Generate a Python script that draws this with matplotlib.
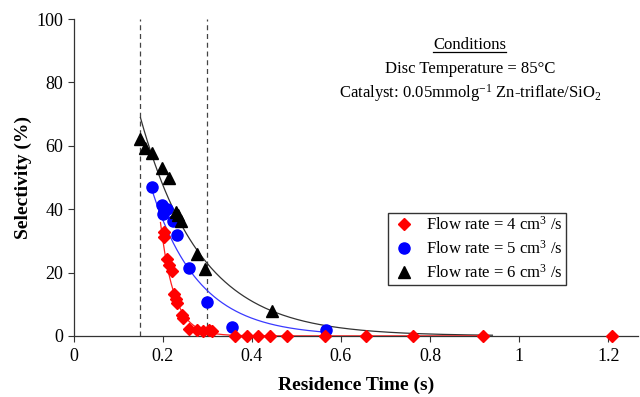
import numpy as np
import matplotlib
matplotlib.use('Agg')
import matplotlib.pyplot as plt

plt.rcParams['font.family'] = ['Liberation Serif', 'DejaVu Serif']
plt.rcParams['mathtext.fontset'] = 'custom'
plt.rcParams['mathtext.rm'] = 'Liberation Serif'
plt.rcParams['mathtext.it'] = 'Liberation Serif:italic'
plt.rcParams['mathtext.bf'] = 'Liberation Serif:bold'

# 4 cm3/s (red diamonds)
red_x = [0.202, 0.204, 0.210, 0.215, 0.220, 0.226, 0.229, 0.232, 0.243, 0.246,
         0.260, 0.276, 0.290, 0.303, 0.310, 0.362, 0.389, 0.413, 0.441, 0.478,
         0.564, 0.656, 0.762, 0.919, 1.208]
red_y = [32.9, 31.3, 24.2, 22.4, 20.6, 13.2, 11.7, 10.5, 6.6, 5.6,
         2.1, 1.7, 1.6, 1.7, 1.4, 0, 0, 0, 0, 0,
         0, 0, 0, 0, 0]
# 5 cm3/s (blue circles)
blue_x = [0.177, 0.198, 0.200, 0.203, 0.209, 0.224, 0.233, 0.260, 0.299, 0.355, 0.567]
blue_y = [47.1, 41.3, 38.5, 39.5, 40.0, 36.4, 31.9, 21.4, 10.8, 2.9, 1.9]
# 6 cm3/s (black triangles)
black_x = [0.149, 0.161, 0.175, 0.198, 0.214, 0.230, 0.235, 0.241, 0.278, 0.295, 0.445]
black_y = [62.1, 59.2, 57.8, 53.1, 49.9, 39.2, 38.2, 36.3, 25.8, 21.1, 7.9]

# x-range over which each exponential trendline is drawn
red_span = (0.195, 0.92)
blue_span = (0.177, 0.567)
black_span = (0.15, 0.94)

dash_x = [0.15, 0.3]
labels = ['Flow rate = 4 cm$^{3}$ /s', 'Flow rate = 5 cm$^{3}$ /s', 'Flow rate = 6 cm$^{3}$ /s']


def exp_trend(x, y, span):
    x = np.array(x)
    y = np.array(y)
    keep = y > 1
    b, a = np.polyfit(x[keep], np.log(y[keep]), 1)
    xs = np.linspace(span[0], span[1], 300)
    return xs, np.exp(a + b * xs)


fig = plt.figure(figsize=(6.4, 3.97), dpi=100)
ax = fig.add_axes([0.115, 0.154, 0.882, 0.798])

for xv in dash_x:
    ax.axvline(xv, color='#444444', lw=0.9, ls=(0, (4, 3)), zorder=1)

xs, ys = exp_trend(black_x, black_y, black_span)
ax.plot(xs, ys, color='#333333', lw=0.9, zorder=2)
xs, ys = exp_trend(blue_x, blue_y, blue_span)
ax.plot(xs, ys, color='#3a3aff', lw=0.9, zorder=2)
xs, ys = exp_trend(red_x, red_y, red_span)
ax.plot(xs, ys, color='#ff2020', lw=0.9, zorder=2)

ax.plot(red_x, red_y, 'D', color='red', ms=5.8, mec='red', ls='none', label=labels[0], zorder=4, clip_on=False)
ax.plot(blue_x, blue_y, 'o', color='blue', ms=8, mec='blue', ls='none', label=labels[1], zorder=3, clip_on=False)
ax.plot(black_x, black_y, '^', color='black', ms=8, ls='none', label=labels[2], zorder=3, clip_on=False)

ax.set_xlim(0, 1.267)
ax.set_ylim(0, 100)
ax.set_xticks([0, 0.2, 0.4, 0.6, 0.8, 1.0, 1.2])
ax.set_xticklabels(['0', '0.2', '0.4', '0.6', '0.8', '1', '1.2'])
ax.set_yticks([0, 20, 40, 60, 80, 100])
ax.tick_params(labelsize=13, length=4, width=0.8, color='#333333')
ax.tick_params(axis='x', pad=5)
ax.spines['top'].set_visible(False)
ax.spines['right'].set_visible(False)
for s in ['left', 'bottom']:
    ax.spines[s].set_color('#333333')
    ax.spines[s].set_linewidth(0.9)

ax.set_xlabel('Residence Time (s)', fontsize=14, fontweight='bold', labelpad=8)
ax.set_ylabel('Selectivity (%)', fontsize=14, fontweight='bold', labelpad=3)

title = ax.text(0.702, 0.918, 'Conditions', transform=ax.transAxes,
                ha='center', va='center', fontsize=12)
ax.text(0.702, 0.842, 'Disc Temperature = 85°C', transform=ax.transAxes,
        ha='center', va='center', fontsize=12)
ax.text(0.702, 0.767, 'Catalyst: 0.05mmolg$^{-1}$ Zn-triflate/SiO$_{2}$', transform=ax.transAxes,
        ha='center', va='center', fontsize=12)

leg = ax.legend(loc='upper left', bbox_to_anchor=(0.557, 0.388), fontsize=12,
                frameon=True, fancybox=False, edgecolor='black', borderpad=0.2,
                handletextpad=0.6, labelspacing=0.35, handlelength=1.5,
                borderaxespad=0)
leg.get_frame().set_linewidth(1.0)

# underline "Conditions"
fig.canvas.draw()
bb = title.get_window_extent().transformed(ax.transAxes.inverted())
ax.plot([bb.x0, bb.x1], [bb.y0 + 0.004, bb.y0 + 0.004], color='black', lw=0.9,
        transform=ax.transAxes, clip_on=False)

fig.savefig('out.png', dpi=100)
